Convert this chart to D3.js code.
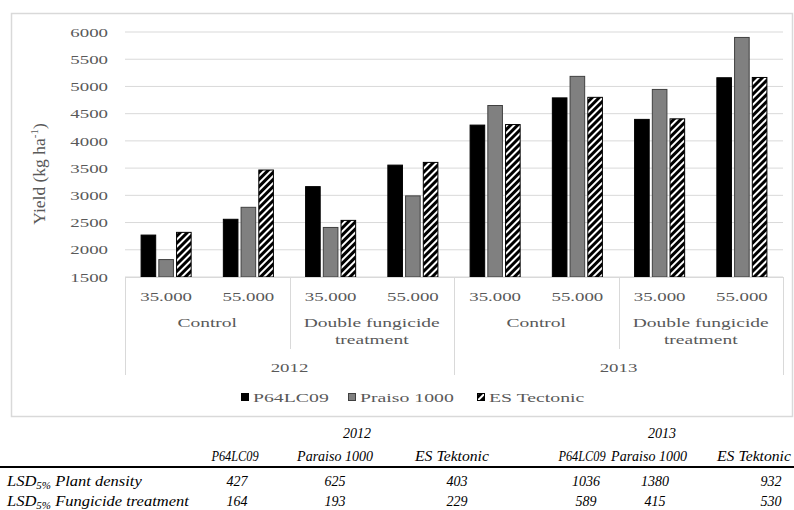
<!DOCTYPE html>
<html>
<head>
<meta charset="utf-8">
<script src="https://cdn.jsdelivr.net/npm/d3@7"></script>
<style>
  body { margin: 0; background: #fff; }
</style>
</head>
<body>
<svg id="chart"></svg>
<script>
// data
const densities = ["35.000", "55.000"];
const treatments = ["Control", "Double fungicide treatment"];
const years = ["2012", "2013"];
const varieties = ["P64LC09", "Praiso 1000", "ES Tectonic"];

const p64 = [2270, 2560, 3160, 3555, 4290, 4790, 4395, 5160];
const praiso = [1820, 2780, 2410, 2990, 4650, 5185, 4945, 5900];
const tectonic = [2320, 3465, 2540, 3605, 4300, 4800, 4405, 5165];

const yTicks = [1500, 2000, 2500, 3000, 3500, 4000, 4500, 5000, 5500, 6000];

// LSD table under the chart
const tableVarieties = ["P64LC09", "Paraiso 1000", "ES Tektonic"];
const lsdDensity = [427, 625, 403, 1036, 1380, 932];
const lsdFungicide = [164, 193, 229, 589, 415, 530];

const width = 794, height = 510;
const textColor = "#595959";
const gridColor = "#d9d9d9";
const serif = "'Liberation Serif', 'Times New Roman', serif";
const stretchK = 1.45;

const svg = d3.select("#chart")
    .attr("width", width)
    .attr("height", height)
    .attr("font-family", serif);

svg.append("rect").attr("width", width).attr("height", height).attr("fill", "#fff");

// hatch for ES Tectonic
const defs = svg.append("defs");
const pat = defs.append("pattern")
    .attr("id", "hatch")
    .attr("patternUnits", "userSpaceOnUse")
    .attr("width", 5)
    .attr("height", 5)
    .attr("patternTransform", "rotate(45)");
pat.append("rect").attr("width", 5).attr("height", 5).attr("fill", "#000");
pat.append("rect").attr("x", 0).attr("width", 2).attr("height", 5).attr("fill", "#fff");

// the chart text in the picture is stretched sideways
function stretch(sel, k) {
    sel.each(function() {
        const len = this.getComputedTextLength();
        d3.select(this)
            .attr("textLength", len * k)
            .attr("lengthAdjust", "spacingAndGlyphs");
    });
}

// small helper so every label gets the same look
function label(parent, x, yPos, txt, anchor, k) {
    return parent.append("text")
        .attr("x", x)
        .attr("y", yPos)
        .attr("dy", "0.35em")
        .attr("text-anchor", anchor || "middle")
        .attr("fill", textColor)
        .style("font-family", serif)
        .style("font-size", "13px")
        .text(txt)
        .call(stretch, k || stretchK);
}

// frame
svg.append("rect")
    .attr("x", 11.5).attr("y", 13.5)
    .attr("width", 781).attr("height", 403)
    .attr("fill", "none")
    .attr("stroke", gridColor)
    .attr("stroke-width", 1.5);

const plot = { left: 125, right: 783, top: 32, bottom: 277 };

// groups: year > treatment > density
const groups = [];
years.forEach(yr => treatments.forEach(tr => densities.forEach(de => {
    groups.push({ year: yr, treatment: tr, density: de, id: yr + "|" + tr + "|" + de });
})));
groups.forEach((g, i) => { g.values = [p64[i], praiso[i], tectonic[i]]; });

const x0 = d3.scaleBand()
    .domain(groups.map(g => g.id))
    .range([plot.left, plot.right]);

const x1 = d3.scaleBand()
    .domain(varieties)
    .range([0, x0.bandwidth()])
    .paddingInner(0.12)
    .paddingOuter(0.88);

const y = d3.scaleLinear()
    .domain([1500, 6000])
    .range([plot.bottom, plot.top]);

const fills = { "P64LC09": "#000", "Praiso 1000": "#808080", "ES Tectonic": "url(#hatch)" };
const strokes = { "P64LC09": "#000", "Praiso 1000": "#404040", "ES Tectonic": "#000" };

// gridlines
svg.append("g")
    .selectAll("line")
    .data(yTicks)
    .enter()
    .append("line")
    .attr("x1", plot.left).attr("x2", plot.right)
    .attr("y1", d => y(d)).attr("y2", d => y(d))
    .attr("stroke", gridColor)
    .attr("stroke-width", 1);

// y axis labels
const yAxis = svg.append("g")
    .attr("transform", "translate(108,0)")
    .call(d3.axisLeft(y).tickValues(yTicks).tickSize(0).tickPadding(0).tickFormat(d3.format("d")));
yAxis.attr("font-family", serif);
yAxis.select(".domain").remove();
yAxis.selectAll("text")
    .attr("fill", textColor)
    .style("font-size", "13px")
    .style("font-family", serif)
    .call(stretch, stretchK);

svg.append("text")
    .attr("transform", "translate(45,174) rotate(-90)")
    .attr("text-anchor", "middle")
    .attr("fill", textColor)
    .style("font-family", serif)
    .style("font-size", "17.5px")
    .call(t => {
        t.append("tspan").text("Yield (kg ha");
        t.append("tspan").attr("dy", -7).style("font-size", "11px").text("-1");
        t.append("tspan").attr("dy", 7).text(")");
    });

// bars
const gBars = svg.append("g")
    .selectAll("g")
    .data(groups)
    .enter()
    .append("g")
    .attr("transform", d => `translate(${x0(d.id)},0)`);

gBars.selectAll("rect")
    .data(d => varieties.map((v, i) => ({ key: v, value: d.values[i] })))
    .enter()
    .append("rect")
    .attr("x", d => x1(d.key) + 0.5)
    .attr("y", d => y(d.value))
    .attr("width", x1.bandwidth() - 1)
    .attr("height", d => y(1500) - y(d.value))
    .attr("fill", d => fills[d.key])
    .attr("stroke", d => strokes[d.key])
    .attr("stroke-width", 1);

// category axis
svg.append("line")
    .attr("x1", plot.left).attr("x2", plot.right)
    .attr("y1", plot.bottom + 0.5).attr("y2", plot.bottom + 0.5)
    .attr("stroke", gridColor);

const axisG = svg.append("g");
groups.forEach(g => label(axisG, x0(g.id) + x0.bandwidth() / 2, 296, g.density));

const trWidth = x0.bandwidth() * densities.length;
const yrWidth = trWidth * treatments.length;
years.forEach((yr, yi) => treatments.forEach((tr, ti) => {
    const cx = plot.left + yrWidth * yi + trWidth * (ti + 0.5);
    const lines = tr === "Control" ? ["Control"] : ["Double fungicide", "treatment"];
    lines.forEach((w, j) => label(axisG, cx, 322 + j * 17.5, w, "middle", 1.5));
}));
years.forEach((yr, i) => label(axisG, plot.left + yrWidth * (i + 0.5), 367, yr));

// separators between treatments and years
const seps = d3.range(years.length * treatments.length + 1);
svg.append("g")
    .selectAll("line")
    .data(seps)
    .enter()
    .append("line")
    .attr("x1", i => Math.round(plot.left + trWidth * i) + 0.5)
    .attr("x2", i => Math.round(plot.left + trWidth * i) + 0.5)
    .attr("y1", plot.bottom)
    .attr("y2", i => i % treatments.length === 0 ? 375 : 349)
    .attr("stroke", gridColor);

// legend
const legendX = [241, 348, 477];
const legend = svg.append("g");
varieties.forEach((v, i) => {
    legend.append("rect")
        .attr("x", legendX[i] + 0.5).attr("y", 393.5)
        .attr("width", 7).attr("height", 7)
        .attr("fill", fills[v])
        .attr("stroke", strokes[v]);
    label(legend, legendX[i] + 12, 397, v, "start", 1.52);
});

// LSD table
const headX = [235, 335, 452, 582, 649, 754];
const numX = [237, 335, 457, 586, 655, 771];
const table = svg.append("g");

function cell(x, yPos, txt, anchor) {
    return table.append("text")
        .attr("x", x)
        .attr("y", yPos)
        .attr("dy", "0.35em")
        .attr("text-anchor", anchor || "middle")
        .attr("fill", "#000")
        .style("font-family", serif)
        .style("font-style", "italic")
        .style("font-size", "14px")
        .text(txt);
}

years.forEach((yr, i) => cell(i === 0 ? 357 : 662, 433, yr));
years.forEach((yr, i) => tableVarieties.forEach((v, j) => {
    const c = cell(headX[i * 3 + j], 456, v);
    if (j === 0) c.call(stretch, 0.88);
    if (j === 2) c.call(stretch, 1.12);
}));

table.append("line")
    .attr("x1", 0).attr("x2", width)
    .attr("y1", 467).attr("y2", 467)
    .attr("stroke", "#000")
    .attr("stroke-width", 2);

const rows = [
    { label: "Plant density", values: lsdDensity, y: 481 },
    { label: "Fungicide treatment", values: lsdFungicide, y: 501 }
];

rows.forEach(r => {
    const t = cell(7, r.y, "", "start").style("font-size", "15px");
    t.append("tspan").text("LSD");
    t.append("tspan").attr("dy", 3).style("font-size", "10px").text("5%");
    t.append("tspan").attr("dy", -3).text(" " + r.label);
    t.call(stretch, 1.1);
    r.values.forEach((v, i) => cell(numX[i], r.y, v));
});
</script>
</body>
</html>
